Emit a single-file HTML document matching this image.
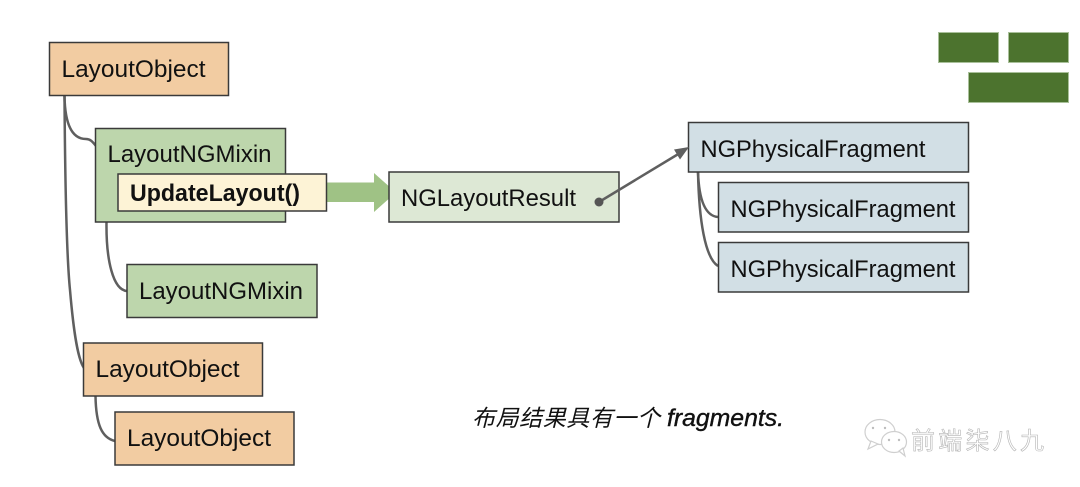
<!DOCTYPE html>
<html>
<head>
<meta charset="utf-8">
<style>
html,body{margin:0;padding:0;background:#fff;width:1080px;height:487px;overflow:hidden}
svg{display:block}
text{font-family:"Liberation Sans","Noto Sans CJK SC",sans-serif;fill:#111;font-size:24px}
.b{stroke:#3a3a3a;stroke-width:1.5}
.c{fill:none;stroke:#5f5f5f;stroke-width:2.5}
</style>
</head>
<body>
<svg width="1080" height="487" viewBox="0 0 1080 487" xmlns="http://www.w3.org/2000/svg">
<rect width="1080" height="487" fill="#fff"/>

<!-- connectors -->
<path class="c" d="M64.5 96 C65 125 72 139 86 139 C90 139 92 141 96 146"/>
<path class="c" d="M64.5 96 C65 170 66 250 70 290 C73 325 77 358 84 368"/>
<path class="c" d="M106.5 222 C106 260 113 290 127 291"/>
<path class="c" d="M95.5 396 C96 425 102 438 115 441"/>
<path class="c" d="M698 172 C699 200 705 216 718 217"/>
<path class="c" d="M698 172 C699 220 705 258 718 266"/>

<!-- left boxes -->
<rect class="b" x="49.5" y="42.5" width="179" height="53" fill="#f2cca2"/>
<text x="61.5" y="77" textLength="144" lengthAdjust="spacingAndGlyphs">LayoutObject</text>

<rect class="b" x="95.5" y="128.5" width="190" height="93.5" fill="#bdd6ac"/>
<text x="107.5" y="162" textLength="164" lengthAdjust="spacingAndGlyphs">LayoutNGMixin</text>

<!-- fat arrow -->
<polygon points="327,182.500 374,182.500 374,173 396,192.500 374,212 374,202 327,202" fill="#9fc285"/>

<rect class="b" x="118" y="174" width="208.500" height="37" fill="#fdf3d6"/>
<text x="130" y="201" textLength="170" lengthAdjust="spacingAndGlyphs" style="font-weight:bold">UpdateLayout()</text>

<rect class="b" x="127" y="264.500" width="190" height="53" fill="#bdd6ac"/>
<text x="139" y="299" textLength="164" lengthAdjust="spacingAndGlyphs">LayoutNGMixin</text>

<rect class="b" x="83.500" y="343" width="179" height="53" fill="#f2cca2"/>
<text x="95.500" y="377" textLength="144" lengthAdjust="spacingAndGlyphs">LayoutObject</text>

<rect class="b" x="115" y="412" width="179" height="53" fill="#f2cca2"/>
<text x="127" y="446" textLength="144" lengthAdjust="spacingAndGlyphs">LayoutObject</text>

<!-- result -->
<rect class="b" x="389" y="172" width="230" height="50" fill="#dde8d5"/>
<text x="401" y="206" textLength="175" lengthAdjust="spacingAndGlyphs">NGLayoutResult</text>

<!-- fragments -->
<rect class="b" x="688.500" y="122.500" width="280" height="49.500" fill="#d2dfe5"/>
<text x="700.500" y="157" textLength="225" lengthAdjust="spacingAndGlyphs">NGPhysicalFragment</text>
<rect class="b" x="718.500" y="182.500" width="250" height="49.500" fill="#d2dfe5"/>
<text x="730.500" y="217" textLength="225" lengthAdjust="spacingAndGlyphs">NGPhysicalFragment</text>
<rect class="b" x="718.500" y="242.500" width="250" height="49.500" fill="#d2dfe5"/>
<text x="730.500" y="277" textLength="225" lengthAdjust="spacingAndGlyphs">NGPhysicalFragment</text>

<!-- pointer arrow -->
<line x1="599" y1="202" x2="680" y2="153" stroke="#5f5f5f" stroke-width="2.500"/>
<polygon points="689,147 680,159.500 674,149.500" fill="#5f5f5f"/>
<circle cx="599" cy="202" r="4.500" fill="#555"/>

<!-- green bricks -->
<rect x="938.500" y="32.500" width="60" height="30" fill="#4c732e" stroke="#a9c09a"/>
<rect x="1008.500" y="32.500" width="60" height="30" fill="#4c732e" stroke="#a9c09a"/>
<rect x="968.500" y="72.500" width="100" height="30" fill="#4c732e" stroke="#a9c09a"/>

<!-- caption -->
<text x="472" y="426" style="font-size:23px;font-style:italic" textLength="188" lengthAdjust="spacing">布局结果具有一个</text>
<text x="667" y="426" style="font-size:24px;font-style:italic;stroke:#111;stroke-width:.4" textLength="117" lengthAdjust="spacingAndGlyphs">fragments.</text>

<!-- watermark -->
<g fill="#fff" stroke="#cfcfcf" stroke-width="1.200">
<ellipse cx="880" cy="432" rx="15" ry="12.500"/>
<polygon points="871,441 868,449 878,444"/>
<ellipse cx="894" cy="442" rx="12.500" ry="10.500"/>
<polygon points="899,451 905,456 903,448"/>
</g>
<g fill="#bdbdbd">
<circle cx="873" cy="428" r="1.200"/><circle cx="885" cy="428" r="1.200"/>
<circle cx="889" cy="440" r="1.200"/><circle cx="899" cy="440" r="1.200"/>
</g>
<text x="911" y="449" style="font-size:24px;fill:#fff;stroke:#b5b5b5;stroke-width:.6" textLength="133" lengthAdjust="spacing">前端柒八九</text>
</svg>
</body>
</html>
